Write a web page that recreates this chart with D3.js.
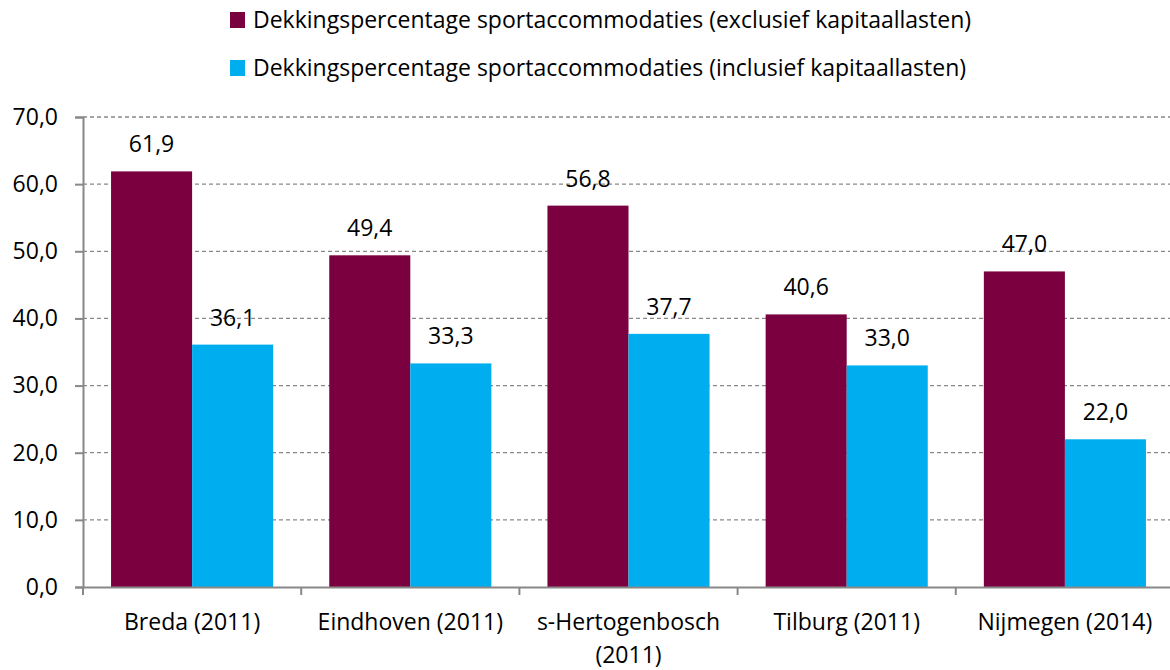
<!DOCTYPE html>
<html>
<head>
<meta charset="utf-8">
<script src="https://cdn.jsdelivr.net/npm/d3@7"></script>
<style>
  body { margin: 0; background: #fff; }
  text { font-family: "Open Sans", sans-serif; fill: #000; }
</style>
</head>
<body>
<div id="chart"></div>
<script>
// data
var cities = ["Breda (2011)", "Eindhoven (2011)", "s-Hertogenbosch (2011)", "Tilburg (2011)", "Nijmegen (2014)"];
var exclusief = [61.9, 49.4, 56.8, 40.6, 47.0];
var inclusief = [36.1, 33.3, 37.7, 33.0, 22.0];
var seriesNames = ["Dekkingspercentage sportaccommodaties (exclusief kapitaallasten)",
                   "Dekkingspercentage sportaccommodaties (inclusief kapitaallasten)"];
var yTicks = [0, 10, 20, 30, 40, 50, 60, 70];

var width = 1170, height = 670;
var margin = {top: 117, left: 83, bottom: 83, right: -4};
var colors = ["#7B003F", "#00AEEF"];
var fontSize = "23px";

var svg = d3.select("#chart").append("svg")
    .attr("width", width)
    .attr("height", height);

var fmt = function(v) { return d3.format(".1f")(v).replace(".", ","); };

var x = d3.scaleBand()
    .domain(cities)
    .range([margin.left, width - margin.right])
    .paddingInner(0)
    .paddingOuter(0);

var inner = d3.scaleBand()
    .domain([0, 1])
    .range([0, x.bandwidth()])
    .paddingOuter(0.346)
    .paddingInner(0);

var y = d3.scaleLinear()
    .domain([0, 70])
    .range([height - margin.bottom, margin.top]);

// gridlines
svg.append("g")
    .selectAll("line")
    .data(yTicks.slice(1))
    .enter().append("line")
    .attr("x1", margin.left)
    .attr("x2", width)
    .attr("y1", d => y(d))
    .attr("y2", d => y(d))
    .attr("stroke", "#888")
    .attr("stroke-width", 1.3)
    .attr("stroke-dasharray", "4,3");

// bars
var rows = cities.map((c, i) => ({city: c, vals: [exclusief[i], inclusief[i]]}));

var groups = svg.append("g")
    .selectAll("g")
    .data(rows)
    .enter().append("g")
    .attr("transform", d => "translate(" + x(d.city) + ",0)");

groups.selectAll("rect")
    .data(d => d.vals.map((v, k) => ({k: k, v: v})))
    .enter().append("rect")
    .attr("x", d => inner(d.k))
    .attr("width", inner.bandwidth())
    .attr("y", d => y(d.v))
    .attr("height", d => y(0) - y(d.v))
    .attr("fill", d => colors[d.k]);

groups.selectAll("text.val")
    .data(d => d.vals.map((v, k) => ({k: k, v: v})))
    .enter().append("text")
    .attr("class", "val")
    .attr("x", d => inner(d.k) + inner.bandwidth() / 2)
    .attr("y", d => y(d.v) - 19)
    .attr("text-anchor", "middle")
    .style("font-size", fontSize)
    .text(d => fmt(d.v));

// y axis
var yAxis = svg.append("g")
    .attr("transform", "translate(" + margin.left + ",0)")
    .call(d3.axisLeft(y).tickValues(yTicks).tickFormat(fmt).tickSize(8).tickPadding(17));
yAxis.select(".domain").attr("stroke", "#888").attr("stroke-width", 2);
yAxis.selectAll(".tick line").attr("stroke", "#888").attr("stroke-width", 2);
yAxis.selectAll(".tick text").style("font-size", fontSize).style("font-family", "'Open Sans', sans-serif").attr("fill", "#000");

// x axis
var xAxis = svg.append("g")
    .attr("transform", "translate(0," + y(0) + ")")
    .call(d3.axisBottom(x).tickValues([]).tickSizeOuter(0));
xAxis.select(".domain").attr("stroke", "#888").attr("stroke-width", 2);

svg.append("g")
    .selectAll("line")
    .data(cities)
    .enter().append("line")
    .attr("x1", d => x(d))
    .attr("x2", d => x(d))
    .attr("y1", y(0))
    .attr("y2", y(0) + 8)
    .attr("stroke", "#888")
    .attr("stroke-width", 2);

// category labels, wrap the long one
var catLabels = svg.append("g")
    .selectAll("text")
    .data(cities)
    .enter().append("text")
    .attr("x", d => x(d) + x.bandwidth() / 2)
    .attr("y", y(0) + 43)
    .attr("text-anchor", "middle")
    .style("font-size", fontSize);

catLabels.each(function(d) {
    var el = d3.select(this);
    var parts = d.length > 18 ? [d.split(" ")[0], d.split(" ")[1]] : [d];
    parts.forEach(function(p, i) {
        el.append("tspan")
            .attr("x", x(d) + x.bandwidth() / 2)
            .attr("dy", i === 0 ? 0 : 33)
            .text(p);
    });
});

// legend
var legend = svg.append("g")
    .selectAll("g")
    .data(seriesNames)
    .enter().append("g")
    .attr("transform", (d, i) => "translate(230," + (12 + i * 48) + ")");

legend.append("rect")
    .attr("width", 15)
    .attr("height", 16)
    .attr("fill", (d, i) => colors[i]);

legend.append("text")
    .attr("x", 23)
    .attr("y", 16)
    .style("font-size", "23px")
    .text(d => d);
</script>
</body>
</html>
